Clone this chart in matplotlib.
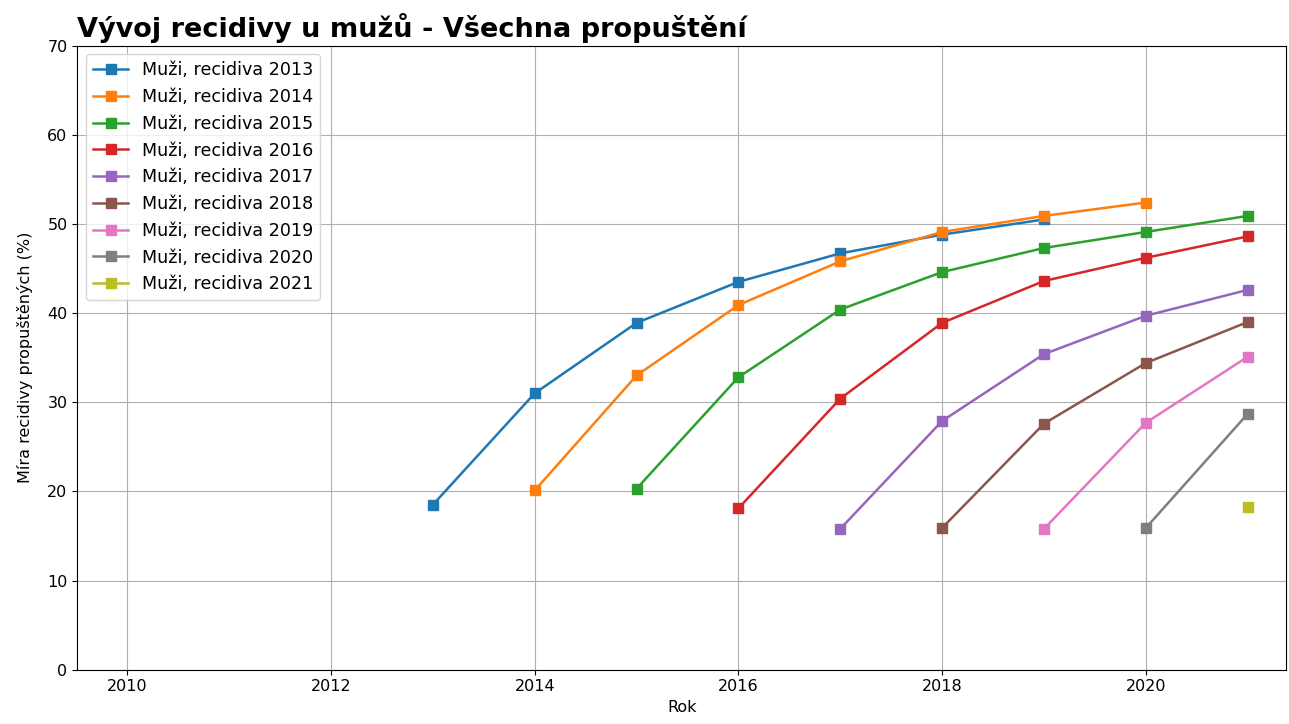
import numpy as np
import matplotlib
matplotlib.use('Agg')
import matplotlib.pyplot as plt

roky = [2013, 2014, 2015, 2016, 2017, 2018, 2019, 2020, 2021]

# recidiva po letech propuštění (v %)
r2013 = [18.5, 31.0, 38.9, 43.5, 46.7, 48.8, 50.5]
r2014 = [20.1, 33.0, 40.9, 45.8, 49.1, 50.9, 52.4]
r2015 = [20.3, 32.8, 40.4, 44.6, 47.3, 49.1, 50.9]
r2016 = [18.1, 30.4, 38.9, 43.6, 46.2, 48.6]
r2017 = [15.8, 27.9, 35.4, 39.7, 42.6]
r2018 = [15.9, 27.6, 34.4, 39.0]
r2019 = [15.8, 27.7, 35.1]
r2020 = [15.9, 28.7]
r2021 = [18.2]

serie = [r2013, r2014, r2015, r2016, r2017, r2018, r2019, r2020, r2021]

plt.rcParams['xtick.labelsize'] = 11.5
plt.rcParams['ytick.labelsize'] = 11.5

fig = plt.figure(figsize=(12.89, 7.24), dpi=100)
ax = fig.add_axes([0.06, 0.075, 0.938, 0.862])

for rok, hodnoty in zip(roky, serie):
    x = np.arange(rok, rok + len(hodnoty))
    ax.plot(x, hodnoty, marker='s', markersize=7.5, linewidth=1.8,
            label=f'Muži, recidiva {rok}')

ax.set_xlim(2009.51, 2021.38)
ax.set_ylim(0, 70)
ax.set_xticks([2010, 2012, 2014, 2016, 2018, 2020])
ax.grid(True)
ax.set_xlabel('Rok', fontsize=11.5)
ax.set_ylabel('Míra recidivy propuštěných (%)', fontsize=11.5, labelpad=10)
ax.set_title('Vývoj recidivy u mužů - Všechna propuštění', loc='left',
             fontsize=19.5, weight='bold')
ax.legend(loc='upper left', fontsize=12.6)

fig.savefig('out.png', dpi=100)
